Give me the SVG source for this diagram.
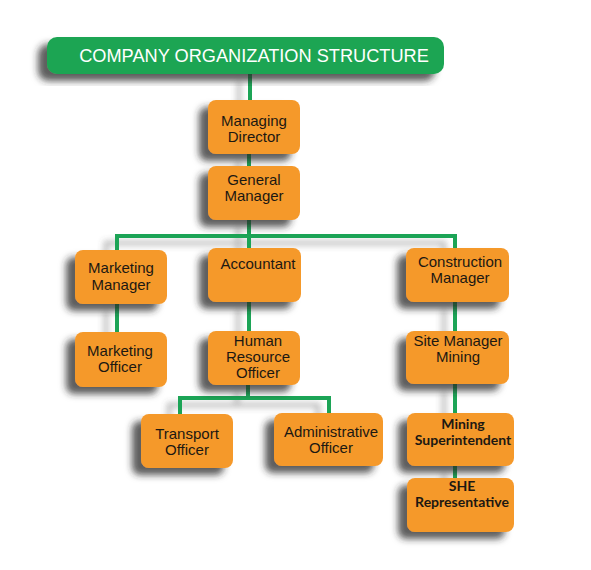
<svg xmlns="http://www.w3.org/2000/svg" width="591" height="570" viewBox="0 0 591 570">
<defs>
<filter id="sh" x="-30%" y="-30%" width="160%" height="160%">
<feDropShadow dx="-9" dy="7" stdDeviation="3.5" flood-color="#2a2a2a" flood-opacity="0.75"/>
</filter>
<filter id="lsh" x="-50%" y="-50%" width="200%" height="200%">
<feDropShadow dx="-11" dy="7" stdDeviation="3" flood-color="#555" flood-opacity="0.45"/>
</filter>
</defs>
<style>
.box{fill:#f5992b;filter:url(#sh)}
.t{font-family:"Liberation Sans",Arial,sans-serif;font-size:15px;fill:#1c1812;text-anchor:middle}
.c{font-family:Lato,"Open Sans",sans-serif;font-size:14px;font-weight:bold;fill:#1c1812;text-anchor:middle}
.ln{fill:none;stroke:#1da456;stroke-width:4;stroke-linecap:butt;stroke-linejoin:miter}
</style>
<rect width="591" height="570" fill="#ffffff"/>
<g id="connectors" filter="url(#lsh)">
<path class="ln" d="M250,74 V100"/>
<path class="ln" d="M249,154 V166"/>
<path class="ln" d="M249,220 V236"/>
<path class="ln" d="M117,250 V236 H455 V248"/>
<path class="ln" d="M249,236 V248"/>
<path class="ln" d="M117,304 V332"/>
<path class="ln" d="M249,302 V331"/>
<path class="ln" d="M248,385 V398"/>
<path class="ln" d="M180,414 V398 H329 V413"/>
<path class="ln" d="M455,302 V331"/>
<path class="ln" d="M455,384 V413"/>
<path class="ln" d="M455,466 V478"/>
</g>
<g id="title">
<rect x="47" y="37" width="397" height="37" rx="10" fill="#1ea553" filter="url(#sh)"/>
<text x="254" y="62" font-family="Liberation Sans, Arial, sans-serif" font-size="18.2" fill="#ffffff" text-anchor="middle">COMPANY ORGANIZATION STRUCTURE</text>
</g>
<g id="managing-director">
<rect class="box" x="208" y="100" width="92" height="54" rx="8"/>
<text class="t" x="254" y="126">Managing</text>
<text class="t" x="254" y="142">Director</text>
</g>
<g id="general-manager">
<rect class="box" x="208" y="166" width="92" height="54" rx="8"/>
<text class="t" x="254" y="185">General</text>
<text class="t" x="254" y="201">Manager</text>
</g>
<g id="marketing-manager">
<rect class="box" x="75" y="250" width="92" height="54" rx="8"/>
<text class="t" x="121" y="273">Marketing</text>
<text class="t" x="121" y="290">Manager</text>
</g>
<g id="accountant">
<rect class="box" x="208" y="248" width="93" height="54" rx="8"/>
<text class="t" x="258" y="269">Accountant</text>
</g>
<g id="construction-manager">
<rect class="box" x="406" y="248" width="103" height="54" rx="8"/>
<text class="t" x="460" y="267">Construction</text>
<text class="t" x="460" y="283">Manager</text>
</g>
<g id="marketing-officer">
<rect class="box" x="75" y="332" width="92" height="55" rx="8"/>
<text class="t" x="120" y="356">Marketing</text>
<text class="t" x="120" y="372">Officer</text>
</g>
<g id="human-resource-officer">
<rect class="box" x="208" y="331" width="92" height="54" rx="8"/>
<text class="t" x="258" y="346">Human</text>
<text class="t" x="258" y="362">Resource</text>
<text class="t" x="258" y="378">Officer</text>
</g>
<g id="site-manager-mining">
<rect class="box" x="406" y="331" width="103" height="53" rx="8"/>
<text class="t" x="458" y="346">Site Manager</text>
<text class="t" x="458" y="362">Mining</text>
</g>
<g id="transport-officer">
<rect class="box" x="141" y="414" width="92" height="54" rx="8"/>
<text class="t" x="187" y="439">Transport</text>
<text class="t" x="187" y="455">Officer</text>
</g>
<g id="administrative-officer">
<rect class="box" x="274" y="413" width="109" height="53" rx="8"/>
<text class="t" x="331" y="437">Administrative</text>
<text class="t" x="331" y="453">Officer</text>
</g>
<g id="mining-superintendent">
<rect class="box" x="407" y="413" width="107" height="53" rx="8"/>
<text class="c" x="463" y="429">Mining</text>
<text class="c" x="463" y="445">Superintendent</text>
</g>
<g id="she-representative">
<rect class="box" x="407" y="478" width="107" height="54" rx="8"/>
<text class="c" x="462" y="491">SHE</text>
<text class="c" x="462" y="507">Representative</text>
</g>
</svg>
